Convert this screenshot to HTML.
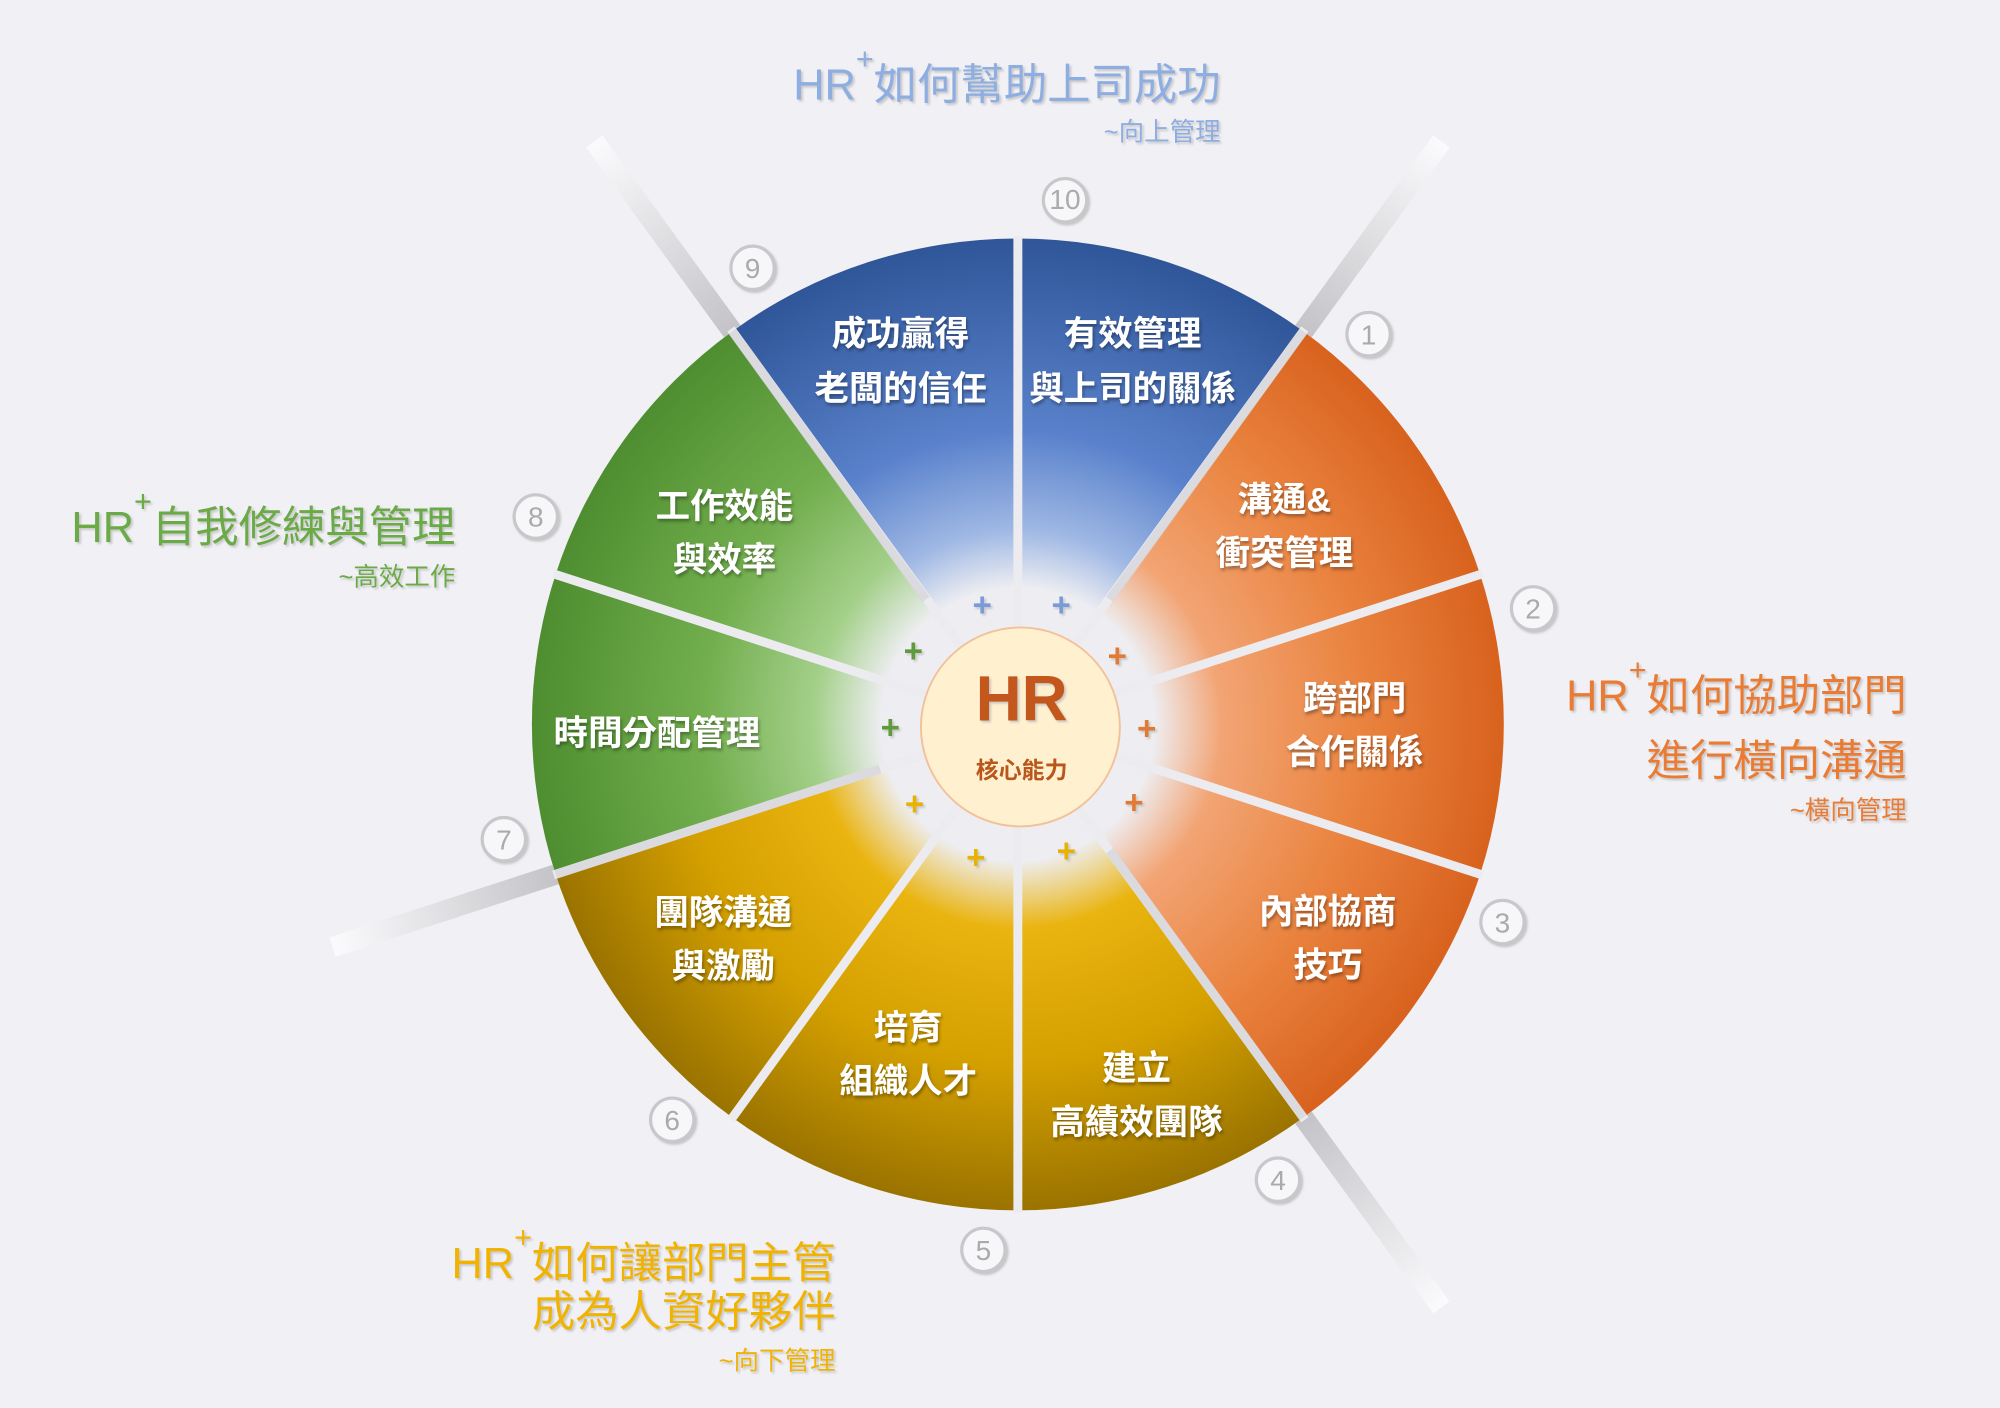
<!DOCTYPE html>
<html><head><meta charset="utf-8"><style>
html,body{margin:0;padding:0;background:#f1f0f5;}
svg{display:block;}
text{font-family:"Liberation Sans","Noto Sans CJK TC",sans-serif;}
.w{fill:#fff;font-size:27px;font-weight:bold;text-anchor:middle;filter:url(#ds);}
.num{fill:#aaa;font-size:22px;text-anchor:middle;}
.pl{font-size:26px;font-weight:bold;text-anchor:middle;}
</style></head><body>
<svg width="2000" height="1408" viewBox="0 0 1568 1104" xmlns="http://www.w3.org/2000/svg">
<defs>
<filter id="ds" x="-20%" y="-30%" width="140%" height="160%"><feDropShadow dx="1" dy="2" stdDeviation="1.2" flood-color="#000" flood-opacity="0.35"/></filter>
<filter id="ws" x="-10%" y="-30%" width="120%" height="160%"><feDropShadow dx="1.5" dy="1.5" stdDeviation="0.8" flood-color="#bbb" flood-opacity="0.8"/></filter>
<radialGradient id="gb" gradientUnits="userSpaceOnUse" cx="798" cy="568" r="381"><stop offset="0" stop-color="#eeeef2"/><stop offset="0.28" stop-color="#eeeef2"/><stop offset="0.4" stop-color="#9fb8e4"/><stop offset="0.6" stop-color="#5a82cc"/><stop offset="1" stop-color="#2f5698"/></radialGradient>
<radialGradient id="go" gradientUnits="userSpaceOnUse" cx="798" cy="568" r="381"><stop offset="0" stop-color="#eeeef2"/><stop offset="0.28" stop-color="#eeeef2"/><stop offset="0.42" stop-color="#f2a474"/><stop offset="0.7" stop-color="#ea8440"/><stop offset="1" stop-color="#d8621e"/></radialGradient>
<radialGradient id="gy" gradientUnits="userSpaceOnUse" cx="798" cy="568" r="381"><stop offset="0" stop-color="#eeeef2"/><stop offset="0.28" stop-color="#eeeef2"/><stop offset="0.42" stop-color="#eab410"/><stop offset="0.7" stop-color="#d4a000"/><stop offset="1" stop-color="#9a7300"/></radialGradient>
<radialGradient id="gg" gradientUnits="userSpaceOnUse" cx="798" cy="568" r="381"><stop offset="0" stop-color="#eeeef2"/><stop offset="0.28" stop-color="#eeeef2"/><stop offset="0.42" stop-color="#a4d08a"/><stop offset="0.65" stop-color="#72ae4e"/><stop offset="1" stop-color="#4e8e30"/></radialGradient>
<linearGradient id="r1" gradientUnits="userSpaceOnUse" x1="1021.9" y1="259.8" x2="1130.1" y2="110.9"><stop offset="0" stop-color="#c4c4c8"/><stop offset="1" stop-color="#fbfbfd"/></linearGradient>
<linearGradient id="r2" gradientUnits="userSpaceOnUse" x1="1021.9" y1="876.2" x2="1130.1" y2="1025.1"><stop offset="0" stop-color="#c4c4c8"/><stop offset="1" stop-color="#fbfbfd"/></linearGradient>
<linearGradient id="r3" gradientUnits="userSpaceOnUse" x1="435.6" y1="685.7" x2="260.7" y2="742.6"><stop offset="0" stop-color="#c4c4c8"/><stop offset="1" stop-color="#fbfbfd"/></linearGradient>
<linearGradient id="r4" gradientUnits="userSpaceOnUse" x1="574.1" y1="259.8" x2="465.9" y2="110.9"><stop offset="0" stop-color="#c4c4c8"/><stop offset="1" stop-color="#fbfbfd"/></linearGradient>
</defs>

<!-- rays -->
<g stroke-width="16" stroke-linecap="butt">
<line x1="1021.9" y1="259.8" x2="1130.1" y2="110.9" stroke="url(#r1)"/>
<line x1="1021.9" y1="876.2" x2="1130.1" y2="1025.1" stroke="url(#r2)"/>
<line x1="435.6" y1="685.7" x2="260.7" y2="742.6" stroke="url(#r3)"/>
<line x1="574.1" y1="259.8" x2="465.9" y2="110.9" stroke="url(#r4)"/>
</g>

<!-- wedges -->
<path d="M798,568 L798,187 A381,381 0 0 1 1021.9,259.8 Z" fill="url(#gb)"/>
<path d="M798,568 L1021.9,259.8 A381,381 0 0 1 1160.4,450.3 Z" fill="url(#go)"/>
<path d="M798,568 L1160.4,450.3 A381,381 0 0 1 1160.4,685.7 Z" fill="url(#go)"/>
<path d="M798,568 L1160.4,685.7 A381,381 0 0 1 1021.9,876.2 Z" fill="url(#go)"/>
<path d="M798,568 L1021.9,876.2 A381,381 0 0 1 798,949 Z" fill="url(#gy)"/>
<path d="M798,568 L798,949 A381,381 0 0 1 574.1,876.2 Z" fill="url(#gy)"/>
<path d="M798,568 L574.1,876.2 A381,381 0 0 1 435.6,685.7 Z" fill="url(#gy)"/>
<path d="M798,568 L435.6,685.7 A381,381 0 0 1 435.6,450.3 Z" fill="url(#gg)"/>
<path d="M798,568 L435.6,450.3 A381,381 0 0 1 574.1,259.8 Z" fill="url(#gg)"/>
<path d="M798,568 L574.1,259.8 A381,381 0 0 1 798,187 Z" fill="url(#gb)"/>

<!-- dividers -->
<g stroke="#ececf0" stroke-width="7">
<line x1="798" y1="568" x2="798" y2="185"/>
<line x1="798" y1="568" x2="1023" y2="258"/>
<line x1="798" y1="568" x2="1162" y2="450"/>
<line x1="798" y1="568" x2="1162" y2="686"/>
<line x1="798" y1="568" x2="1023" y2="878"/>
<line x1="798" y1="568" x2="798" y2="951"/>
<line x1="798" y1="568" x2="573" y2="878"/>
<line x1="798" y1="568" x2="434" y2="686"/>
<line x1="798" y1="568" x2="434" y2="450"/>
<line x1="798" y1="568" x2="573" y2="258"/>
</g>
<g stroke-width="7" opacity="0.7">
<line x1="1021.9" y1="259.8" x2="870" y2="470" stroke="#d4d4d8"/>
<line x1="574.1" y1="259.8" x2="726" y2="470" stroke="#d4d4d8"/>
<line x1="435.6" y1="685.7" x2="690" y2="603" stroke="#d4d4d8"/>
<line x1="1021.9" y1="876.2" x2="870" y2="667" stroke="#d4d4d8"/>
</g>

<!-- core -->
<circle cx="800" cy="570" r="78" fill="#fff1cf" stroke="#f2c09a" stroke-width="1.5"/>
<text x="801" y="565" font-size="50" font-weight="bold" fill="#c4581a" text-anchor="middle" filter="url(#ws)">HR</text>
<text x="801" y="610" font-size="18" font-weight="bold" fill="#b8561c" text-anchor="middle">核心能力</text>

<!-- plus signs -->
<g class="pl" filter="url(#ws)">
<text x="770" y="483" fill="#7a9ad8" class="pl">+</text>
<text x="832" y="483" fill="#7a9ad8" class="pl">+</text>
<text x="876" y="523" fill="#e07a34" class="pl">+</text>
<text x="899" y="580" fill="#e07a34" class="pl">+</text>
<text x="889" y="638" fill="#e07a34" class="pl">+</text>
<text x="836" y="676" fill="#e8b200" class="pl">+</text>
<text x="765" y="681" fill="#e8b200" class="pl">+</text>
<text x="717" y="639" fill="#e8b200" class="pl">+</text>
<text x="698" y="579" fill="#5e9a3c" class="pl">+</text>
<text x="716" y="519" fill="#5e9a3c" class="pl">+</text>
</g>

<!-- wedge labels -->
<text class="w" x="888" y="271">有效管理</text>
<text class="w" x="888" y="314">與上司的關係</text>
<text class="w" x="706" y="271">成功贏得</text>
<text class="w" x="706" y="314">老闆的信任</text>
<text class="w" x="1007" y="401">溝通&amp;</text>
<text class="w" x="1007" y="443">衝突管理</text>
<text class="w" x="1062" y="557">跨部門</text>
<text class="w" x="1062" y="599">合作關係</text>
<text class="w" x="1041" y="724">內部協商</text>
<text class="w" x="1041" y="766">技巧</text>
<text class="w" x="891" y="847">建立</text>
<text class="w" x="891" y="889">高績效團隊</text>
<text class="w" x="712" y="815">培育</text>
<text class="w" x="712" y="857">組織人才</text>
<text class="w" x="567" y="725">團隊溝通</text>
<text class="w" x="567" y="767">與激勵</text>
<text class="w" x="515" y="584">時間分配管理</text>
<text class="w" x="568" y="406">工作效能</text>
<text class="w" x="568" y="448">與效率</text>

<!-- number circles -->
<g fill="#f7f7f9" stroke="#c8c8cc" stroke-width="2.5" filter="url(#ws)">
<circle cx="1073" cy="262" r="17"/><circle cx="1202" cy="477" r="17"/><circle cx="1178" cy="723" r="17"/>
<circle cx="1002" cy="925" r="17"/><circle cx="771" cy="980" r="17"/><circle cx="527" cy="878" r="17"/>
<circle cx="395" cy="658" r="17"/><circle cx="420" cy="405" r="17"/><circle cx="590" cy="210" r="17"/>
<circle cx="835" cy="157" r="17"/>
</g>
<g class="num">
<text class="num" x="1073" y="270">1</text><text class="num" x="1202" y="485">2</text><text class="num" x="1178" y="731">3</text>
<text class="num" x="1002" y="933">4</text><text class="num" x="771" y="988">5</text><text class="num" x="527" y="886">6</text>
<text class="num" x="395" y="666">7</text><text class="num" x="420" y="413">8</text><text class="num" x="590" y="218">9</text>
<text class="num" x="835" y="164" font-size="18">10</text>
</g>

<!-- titles -->
<g filter="url(#ws)">
<text x="957" y="78" font-size="34" fill="#8eaee2" text-anchor="end">HR<tspan dy="-24" font-size="24">+</tspan><tspan dy="24">如何幫助上司成功</tspan></text>
<text x="957" y="110" font-size="20" fill="#8eaee2" text-anchor="end">~向上管理</text>

<text x="357" y="425" font-size="34" fill="#6aaa46" text-anchor="end">HR<tspan dy="-24" font-size="24">+</tspan><tspan dy="24">自我修練與管理</tspan></text>
<text x="357" y="459" font-size="20" fill="#6aaa46" text-anchor="end">~高效工作</text>

<text x="1495" y="557" font-size="34" fill="#e97c32" text-anchor="end">HR<tspan dy="-24" font-size="24">+</tspan><tspan dy="24">如何協助部門</tspan></text>
<text x="1495" y="608" font-size="34" fill="#e97c32" text-anchor="end">進行橫向溝通</text>
<text x="1495" y="642" font-size="20" fill="#e97c32" text-anchor="end">~橫向管理</text>

<text x="655" y="1002" font-size="34" fill="#f0b400" text-anchor="end">HR<tspan dy="-24" font-size="24">+</tspan><tspan dy="24">如何讓部門主管</tspan></text>
<text x="655" y="1040" font-size="34" fill="#f0b400" text-anchor="end">成為人資好夥伴</text>
<text x="655" y="1074" font-size="20" fill="#f0b400" text-anchor="end">~向下管理</text>
</g>
</svg>
</body></html>
